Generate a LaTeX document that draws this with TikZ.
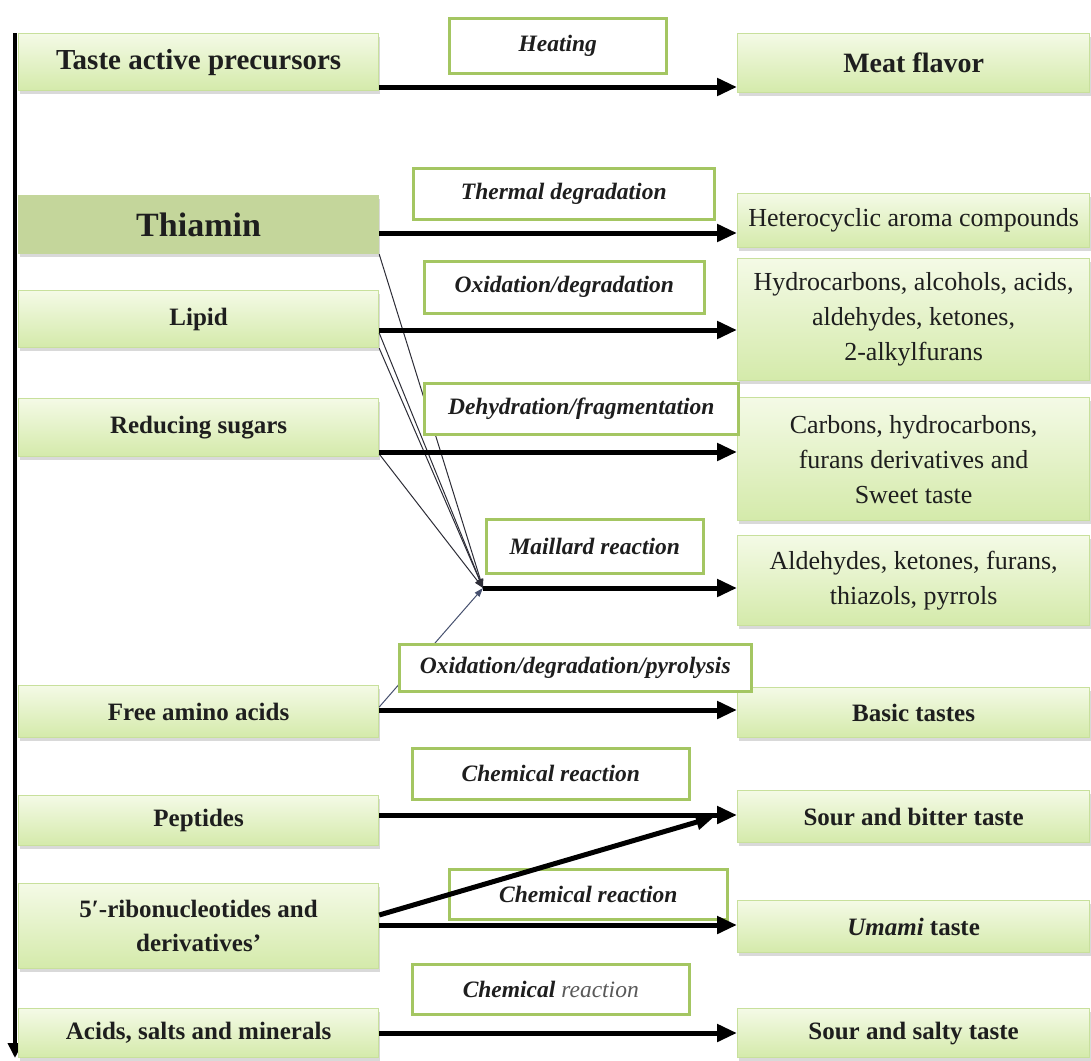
\documentclass[tikz,border=0pt]{standalone}
\usepackage{fontspec}
\setmainfont{Liberation Serif}
\usetikzlibrary{arrows.meta,shadows,calc}

\definecolor{gtop}{RGB}{244,250,230}
\definecolor{gbot}{RGB}{212,234,170}
\definecolor{gedge}{RGB}{200,224,156}
\definecolor{lbedge}{RGB}{164,198,98}
\definecolor{thifill}{RGB}{196,214,155}
\definecolor{txt}{RGB}{30,30,30}
\definecolor{thinc}{RGB}{45,45,55}
\definecolor{thinb}{RGB}{70,80,110}

\tikzset{
  gbox/.style={draw=gedge, line width=1.2pt, top color=gtop, bottom color=gbot,
    drop shadow={shadow xshift=1pt, shadow yshift=-3pt, opacity=0.3},
    anchor=north west, inner sep=0pt, align=center, text=txt},
  srcbox/.style={gbox, minimum width=360pt, font=\fontsize{25}{34}\selectfont\bfseries},
  resbox/.style={gbox, minimum width=352pt, font=\fontsize{25}{34}\selectfont\bfseries},
  resreg/.style={gbox, minimum width=352pt, font=\fontsize{26}{35}\selectfont},
  lbl/.style={draw=lbedge, line width=2.5pt, fill=white, anchor=north west, inner sep=0pt,
    text=txt, font=\fontsize{23.5}{28}\selectfont\bfseries\itshape},
  bigarrow/.style={line width=5pt, -{Triangle[length=20pt,width=17pt]}},
  thinarrow/.style={draw=thinc, line width=1pt, -{Triangle[length=9pt,width=6pt]}}
}

\begin{document}
\begin{tikzpicture}[x=1pt,y=-1pt]
\useasboundingbox (0,0) rectangle (1091,1060);

% vertical axis
\coordinate (vtop) at (15,33);
\coordinate (vbot) at (15,1058);
\draw[line width=3.5pt, -{Triangle[length=15pt,width=14pt]}] (vtop) -- (vbot);

% left (source) boxes
\node[srcbox, minimum height=57pt, font=\fontsize{29}{34}\selectfont\bfseries] (tap) at (18,33) {Taste active precursors};
\node[gbox, fill=thifill, draw=thifill, top color=thifill, bottom color=thifill, minimum width=360pt, minimum height=58pt, font=\fontsize{34}{40}\selectfont\bfseries] (thi) at (18,195) {Thiamin};
\node[srcbox, minimum height=57pt] (lip) at (18,290) {Lipid};
\node[srcbox, minimum height=58pt] (red) at (18,398) {Reducing sugars};
\node[srcbox, minimum height=52pt] (fre) at (18,685) {Free amino acids};
\node[srcbox, minimum height=50pt] (pep) at (18,795) {Peptides};
\node[srcbox, minimum height=85pt] (rib) at (18,883) {5′-ribonucleotides and\\derivatives'};
\node[srcbox, minimum height=49pt] (acs) at (18,1008) {Acids, salts and minerals};

% right (result) boxes
\node[resbox, minimum height=59pt, font=\fontsize{28}{34}\selectfont\bfseries] (mf) at (737,33) {Meat flavor};
\node[resreg, minimum height=54pt] (het) at (737,193) {Heterocyclic aroma compounds};
\node[resreg, minimum height=122pt] (hyd) at (737,258) {Hydrocarbons, alcohols, acids,\\aldehydes, ketones,\\2-alkylfurans};
\node[resreg, minimum height=123pt] (car) at (737,397) {Carbons, hydrocarbons,\\furans derivatives and\\Sweet taste};
\node[resreg, minimum height=90pt] (ald) at (737,535) {Aldehydes, ketones, furans,\\thiazols, pyrrols};
\node[resbox, minimum height=50pt] (bas) at (737,687) {Basic tastes};
\node[resbox, minimum height=52pt] (sbt) at (737,790) {Sour and bitter taste};
\node[resbox, minimum height=52pt] (uma) at (737,900) {\textit{Umami} taste};
\node[resbox, minimum height=49pt] (sst) at (737,1008) {Sour and salty taste};

% thin converging lines (behind the label boxes)
\coordinate (M) at (483,588);
\draw[thinarrow] (thi.south east) -- (M);
\draw[thinarrow] (lip.east |- 0,333) -- (M);
\draw[thinarrow] (lip.south east) -- (M);
\draw[thinarrow] (red.east |- 0,454) -- (M);
\draw[thinarrow, draw=thinb] (fre.east |- 0,707) -- (M);

% label boxes
\node[lbl, minimum width=217pt, minimum height=55pt] (heat) at (448,17) {Heating};
\node[lbl, minimum width=301pt, minimum height=51pt] (thd) at (412,167) {Thermal degradation};
\node[lbl, minimum width=280pt, minimum height=52pt] (oxd) at (423,260) {Oxidation/degradation};
\node[lbl, minimum width=314pt, minimum height=51pt] (dhf) at (423,382) {Dehydration/fragmentation};
\node[lbl, minimum width=217pt, minimum height=54pt] (mai) at (485,518) {Maillard reaction};
\node[lbl, minimum width=352pt, minimum height=47pt] (odp) at (398,643) {Oxidation/degradation/pyrolysis};
\node[lbl, minimum width=277pt, minimum height=51pt] (cr1) at (411,747) {Chemical reaction};
\node[lbl, minimum width=278pt, minimum height=50pt] (cr2) at (448,868) {Chemical reaction};
\node[lbl, minimum width=277pt, minimum height=50pt] (cr3) at (411,963) {Chemical \textcolor{black!65}{\mdseries reaction}};

% thick arrows
\draw[bigarrow] (tap.east |- 0,87) -- (mf.west |- 0,87);
\draw[bigarrow] (thi.east |- 0,233) -- (het.west |- 0,233);
\draw[bigarrow] (lip.east |- 0,330) -- (hyd.west |- 0,330);
\draw[bigarrow] (red.east |- 0,452) -- (car.west |- 0,452);
\draw[bigarrow] (M) -- (ald.west |- M);
\draw[bigarrow] (fre.east |- 0,710) -- (bas.west |- 0,710);
\draw[bigarrow] (pep.east |- 0,815) -- (sbt.west |- 0,815);
\coordinate (sbtin) at (714,817);
\draw[bigarrow, -{Triangle[length=18pt,width=15pt]}] (rib.east |- 0,915) -- (sbtin);
\draw[bigarrow] (rib.east |- 0,925) -- (uma.west |- 0,925);
\draw[bigarrow] (acs.east |- 0,1033) -- (sst.west |- 0,1033);
\end{tikzpicture}
\end{document}
